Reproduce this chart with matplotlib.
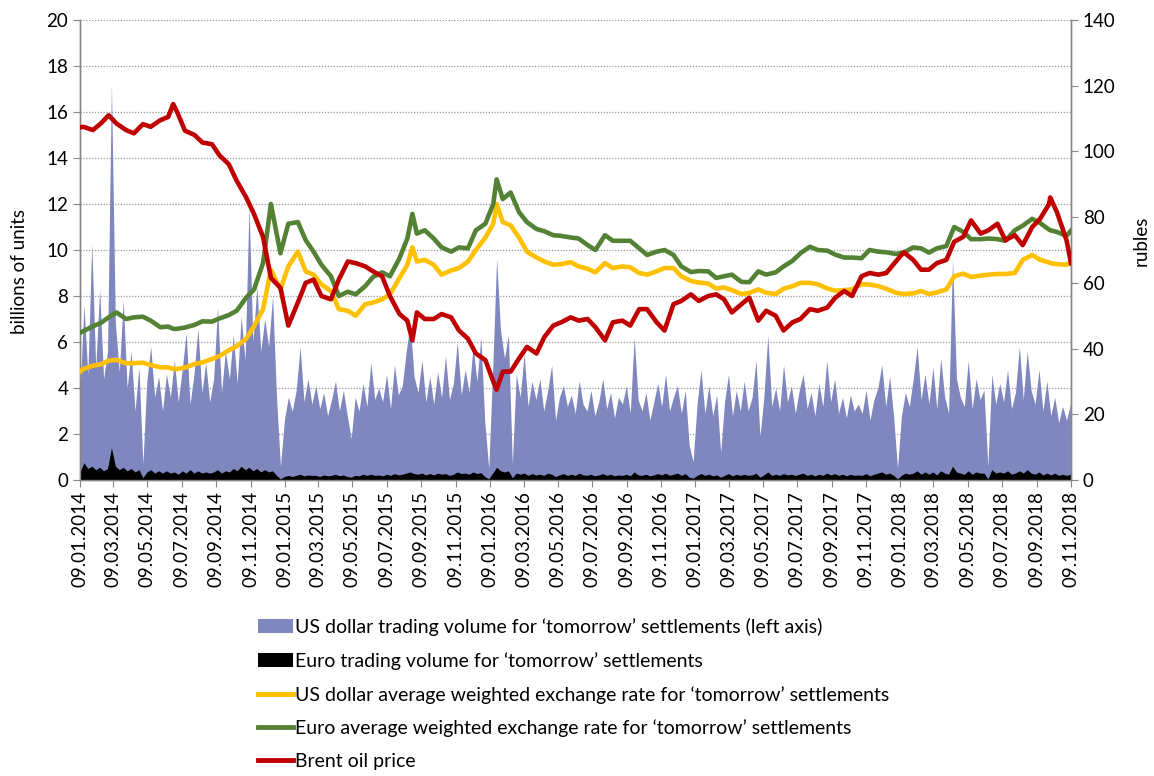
import numpy as np
import pandas as pd
import matplotlib
matplotlib.use('Agg')
import matplotlib.pyplot as plt
import matplotlib.dates as mdates
from matplotlib.patches import Patch
from matplotlib.lines import Line2D

plt.rcParams['font.family'] = ['Lato', 'DejaVu Sans']

# ---------------- weekly trading volumes (billions of units, left axis) ----------------
vol_dates = pd.date_range('2014-01-09', '2018-11-08', freq='7D')

usd_volume = (
    # 2014
    [3.8, 7.6, 4.6, 10.3, 4.9, 8.3, 4.4, 5.6, 17.2, 6.8, 4.7, 7.8, 4.0, 5.6, 3.0, 4.9,
     0.7, 4.3, 5.8, 3.6, 4.5, 3.0, 4.6, 3.6, 5.2, 3.4, 4.8, 6.4, 3.3, 4.6, 6.6, 3.8, 5.1, 3.4,
     4.4, 7.5, 3.8, 5.6, 4.4, 6.3, 4.2, 7.1, 5.2, 11.9, 6.0, 8.4, 5.6, 7.0, 5.8, 8.0, 3.6]
    # 2015
    + [0.6, 2.6, 3.6, 3.0, 3.9, 5.8, 3.4, 4.4, 3.3, 4.1, 3.1, 3.8, 2.8, 3.5, 4.3, 3.0, 3.9, 2.8,
       1.8, 3.6, 3.0, 4.2, 3.2, 5.1, 3.5, 4.0, 3.4, 4.6, 3.1, 5.0, 3.7, 4.1, 5.6, 6.8, 4.5,
       3.8, 5.2, 3.4, 4.5, 3.3, 4.7, 3.6, 5.4, 3.5, 4.2, 6.0, 3.7, 4.8, 3.8, 5.8, 4.3, 6.2, 2.5]
    # 2016
    + [0.5, 4.8, 9.6, 6.5, 5.3, 6.3, 0.7, 4.6, 3.6, 5.5, 3.2, 4.3, 3.5, 4.4, 3.0, 3.9, 5.0,
       2.6, 3.6, 4.1, 3.2, 3.7, 2.9, 4.3, 3.3, 3.0, 3.9, 2.8, 3.4, 4.4, 3.1, 3.8, 2.7, 3.6,
       3.3, 4.1, 2.9, 6.2, 3.5, 3.0, 3.8, 2.6, 3.4, 4.2, 3.2, 4.6, 3.0, 3.6, 4.1, 2.9, 3.9, 1.5]
    # 2017
    + [0.8, 3.3, 4.8, 2.9, 4.1, 2.8, 3.7, 1.2, 3.4, 4.6, 2.8, 3.9, 3.0, 4.3, 3.0, 3.6, 5.2,
       1.9, 3.6, 6.3, 3.2, 4.0, 3.0, 5.0, 3.4, 4.1, 2.9, 3.9, 4.6, 3.1, 3.8, 2.8, 4.2, 3.2, 5.2,
       3.4, 4.4, 2.9, 3.6, 2.7, 3.7, 3.0, 3.3, 2.9, 3.9, 2.6, 3.5, 4.0, 5.0, 3.2, 4.5, 2.8]
    # 2018
    + [0.5, 2.8, 3.8, 3.2, 4.4, 5.8, 3.5, 4.6, 3.3, 4.9, 3.1, 5.3, 3.6, 2.9, 9.6, 4.4, 3.6,
       3.2, 5.2, 3.1, 4.4, 3.5, 3.9, 0.6, 4.6, 3.3, 4.2, 3.4, 4.8, 3.1, 3.8, 5.8, 3.5, 5.6, 3.9,
       3.3, 4.8, 3.0, 4.3, 2.8, 3.6, 2.5, 3.2, 2.6, 3.3]
)

eur_volume = (
    # 2014
    [0.35, 0.75, 0.5, 0.6, 0.45, 0.55, 0.4, 0.5, 1.4, 0.6, 0.45, 0.55, 0.4, 0.5, 0.35, 0.45,
     0.1, 0.35, 0.45, 0.3, 0.4, 0.3, 0.4, 0.3, 0.35, 0.25, 0.4, 0.3, 0.45, 0.3, 0.4, 0.3, 0.35, 0.3,
     0.35, 0.45, 0.3, 0.4, 0.35, 0.5, 0.4, 0.6, 0.45, 0.55, 0.4, 0.5, 0.35, 0.45, 0.35, 0.4, 0.2]
    # 2015
    + [0.05, 0.15, 0.2, 0.15, 0.2, 0.25, 0.18, 0.22, 0.2, 0.2, 0.15, 0.22, 0.18, 0.2, 0.25, 0.18, 0.22, 0.15,
       0.12, 0.2, 0.18, 0.25, 0.2, 0.25, 0.2, 0.22, 0.18, 0.25, 0.2, 0.28, 0.22, 0.25, 0.3, 0.35, 0.28,
       0.25, 0.3, 0.22, 0.28, 0.22, 0.3, 0.25, 0.28, 0.2, 0.25, 0.35, 0.28, 0.3, 0.25, 0.35, 0.28, 0.32, 0.15]
    # 2016
    + [0.05, 0.3, 0.55, 0.4, 0.35, 0.4, 0.1, 0.3, 0.25, 0.3, 0.2, 0.28, 0.22, 0.25, 0.2, 0.3, 0.25,
       0.15, 0.22, 0.28, 0.2, 0.25, 0.2, 0.3, 0.22, 0.2, 0.25, 0.18, 0.22, 0.28, 0.2, 0.25, 0.18, 0.22,
       0.2, 0.25, 0.18, 0.35, 0.22, 0.2, 0.25, 0.18, 0.22, 0.28, 0.22, 0.3, 0.2, 0.25, 0.3, 0.2, 0.28, 0.12]
    # 2017
    + [0.08, 0.2, 0.28, 0.2, 0.25, 0.18, 0.22, 0.12, 0.2, 0.28, 0.18, 0.25, 0.2, 0.25, 0.2, 0.22, 0.3,
       0.12, 0.22, 0.35, 0.2, 0.25, 0.2, 0.28, 0.22, 0.25, 0.2, 0.25, 0.3, 0.2, 0.25, 0.18, 0.25, 0.2, 0.3,
       0.22, 0.28, 0.2, 0.25, 0.18, 0.25, 0.2, 0.22, 0.2, 0.28, 0.18, 0.25, 0.3, 0.35, 0.25, 0.3, 0.2]
    # 2018
    + [0.05, 0.2, 0.3, 0.25, 0.3, 0.4, 0.25, 0.35, 0.25, 0.35, 0.22, 0.4, 0.3, 0.25, 0.6, 0.35, 0.3,
       0.25, 0.4, 0.25, 0.35, 0.3, 0.3, 0.05, 0.45, 0.3, 0.35, 0.3, 0.4, 0.25, 0.3, 0.4, 0.3, 0.45, 0.3,
       0.25, 0.35, 0.22, 0.3, 0.22, 0.3, 0.2, 0.25, 0.2, 0.25]
)

# ---------------- rates and oil (right axis, semi-monthly + peak dates) ----------------
peak_dates = ['2014-06-24', '2015-08-24', '2016-01-21', '2018-10-03']
line_dates = sorted(
    [pd.Timestamp('2014-01-09')]
    + list(pd.date_range('2014-01-15', '2018-11-01', freq='SMS'))
    + [pd.Timestamp(d) for d in peak_dates]
    + [pd.Timestamp('2018-11-09')]
)

usd_rate = (
    [33, 33.8, 34.8, 35.2, 36.3, 36.6, 35.5, 35.6, 35.7, 35, 34.3, 34.3, 33.8, 33.8, 34.2, 35.3,
     35.8, 36.8, 37.8, 39.5, 40.7, 43, 46.8, 52, 64]
    + [58, 65, 69.5, 63.5, 62.5, 59.5, 57.5, 52, 51.5, 50, 53.5, 54, 55, 56.5, 61.5, 65.5, 70.8,
       66.5, 67, 65.5, 62.5, 63.8, 64.5, 66.5, 70]
    + [73.8, 78, 84, 78.5, 77.5, 73.8, 69.5, 67.7, 66.5, 65.5, 65.7, 66.3, 65, 64.3, 63.2, 66,
       64.5, 65, 64.7, 63, 62.5, 63.5, 64.5, 64.5, 62]
    + [60.6, 60.1, 59.8, 58.3, 58.6, 57.8, 56.6, 56.9, 58, 57, 56.6, 58.2, 59, 60, 60, 59.6,
       58.3, 57.6, 57.8, 58, 59.6, 59.5, 59, 58.2]
    + [57, 56.6, 56.8, 57.5, 56.6, 57.1, 58, 62, 62.8, 61.8, 62.2, 62.5, 62.7, 62.7, 63, 67,
       68.5, 67, 66.2, 66, 65.7, 65.5, 66.5]
)

eur_rate = (
    [44.8, 45.3, 46.8, 47.8, 49.5, 51, 49, 49.5, 49.7, 48.5, 46.5, 46.7, 46, 46, 46.4, 47.2,
     48.3, 48.2, 49.2, 50.2, 51.5, 55.5, 58, 66, 84]
    + [69, 78, 78.5, 73, 69.5, 65.5, 62, 56, 57.3, 56.5, 59, 61.8, 63.2, 62, 67.5, 73.5, 81,
       75, 76, 73.5, 70.8, 69.5, 70.8, 70.5, 76]
    + [78, 84, 91.5, 85.5, 87.5, 81.5, 78.5, 76.4, 75.7, 74.5, 74.3, 73.8, 73.5, 71.5, 70, 74.5,
       72.8, 72.8, 72.8, 70.5, 68.5, 69.5, 70, 68.5, 65]
    + [63.3, 63.6, 63.5, 61.5, 62, 62.5, 60.3, 60.2, 63.5, 62.5, 63.2, 65, 66.7, 69, 71, 70,
       69.8, 68.6, 67.7, 67.7, 67.5, 70, 69.5, 69.3]
    + [68.8, 69.2, 70.8, 70.5, 69.2, 70.5, 71.2, 77, 75.5, 73.3, 73.3, 73.5, 73.3, 72.8, 76, 77.4,
       79.5, 78.2, 76.2, 76, 75.5, 74.3, 75.9]
)

brent = (
    [107.3, 107.5, 106.5, 108.5, 111, 108.5, 106.5, 105.5, 108.3, 107.5, 109.5, 110.5, 114.4, 112,
     106.3, 105, 102.7, 102.2, 98.7, 96.1, 91.1, 86, 80.9, 74, 61.5]
    + [58.5, 47, 54, 60, 61, 56, 55, 61, 66.5, 66, 65, 63.5, 62, 56, 50.5, 48.5, 42.5, 51, 49, 49,
       50.5, 49.5, 45.5, 43, 38.5]
    + [36.5, 30, 27.5, 33, 33, 37, 40.5, 38.5, 43.5, 47, 48, 49.5, 48.5, 49, 46.5, 42.5, 48, 48.5,
       47, 52, 52, 48, 45.5, 53.5, 54.5]
    + [56.5, 54.5, 56, 56.5, 55, 51, 53.5, 55.5, 48.5, 51.5, 50, 45.5, 48, 49, 52, 51.5, 52.5,
       55.5, 57.5, 56, 62, 63, 62.5, 63]
    + [66.5, 69.3, 67, 64, 64, 66, 67, 72.5, 74, 79, 75, 76, 78, 73, 74.5, 71.5, 77, 79.5, 84,
       86, 81.5, 73, 66]
)

legend_labels = [
    "US dollar trading volume for \u2018tomorrow\u2019 settlements (left axis)",
    "Euro trading volume for \u2018tomorrow\u2019 settlements",
    "US dollar average weighted exchange rate for \u2018tomorrow\u2019 settlements",
    "Euro average weighted exchange rate for \u2018tomorrow\u2019 settlements",
    "Brent oil price",
]

assert len(usd_volume) == len(vol_dates) == len(eur_volume)
assert len(usd_rate) == len(eur_rate) == len(brent) == len(line_dates)

C_VOL = '#8087BF'
C_EURV = '#000000'
C_USD = '#FFC000'
C_EUR = '#548235'
C_OIL = '#C00000'
C_AX = '#868686'
FS = 13.5

fig = plt.figure(figsize=(11.54, 7.76), dpi=100)
ax = fig.add_axes([80 / 1154, 1 - 480 / 776, 991 / 1154, 460 / 776])

ax.fill_between(vol_dates, usd_volume, 0, color=C_VOL, lw=0, zorder=2)
ax.fill_between(vol_dates, eur_volume, 0, color=C_EURV, lw=0, zorder=3)

x0, x1 = pd.Timestamp('2014-01-09'), pd.Timestamp('2018-11-09')
ax.set_xlim(x0, x1)
ax.set_ylim(0, 20)
ax.set_yticks(range(0, 21, 2))
ax.grid(axis='y', color='#9A9A9A', linestyle=(0, (1, 1.3)), lw=0.9)
ax.set_axisbelow(True)

tick_dates = [pd.Timestamp(2014 + (m - 1) // 12, (m - 1) % 12 + 1, 9) for m in range(1, 60, 2)]
ax.set_xticks(tick_dates)
ax.xaxis.set_major_formatter(mdates.DateFormatter('%d.%m.%Y'))
ax.tick_params(axis='x', rotation=90, labelsize=FS, length=5, color=C_AX, pad=3)
ax.tick_params(axis='y', labelsize=FS, length=5, color=C_AX)

ax2 = ax.twinx()
ax2.plot(line_dates, usd_rate, color=C_USD, lw=3.3, solid_joinstyle='round', zorder=3)
ax2.plot(line_dates, eur_rate, color=C_EUR, lw=3.3, solid_joinstyle='round', zorder=4)
ax2.plot(line_dates, brent, color=C_OIL, lw=3.3, solid_joinstyle='round', zorder=5)
ax2.set_ylim(0, 140)
ax2.set_yticks(range(0, 141, 20))
ax2.tick_params(axis='y', labelsize=FS, length=5, color=C_AX)
ax2.set_xlim(x0, x1)

for a in (ax, ax2):
    a.spines['top'].set_visible(False)
    for s in ('left', 'right', 'bottom'):
        a.spines[s].set_color(C_AX)
        a.spines[s].set_linewidth(1.0)

fig.text(20 / 1154, 1 - 271 / 776, 'billions of units', rotation=90, ha='center', va='center', fontsize=FS)
fig.text(1141 / 1154, 1 - 241 / 776, 'rubles', rotation=90, ha='center', va='center', fontsize=FS)

handles = [
    Patch(facecolor=C_VOL, edgecolor='none'),
    Patch(facecolor=C_EURV, edgecolor='none'),
    Line2D([], [], color=C_USD, lw=3.5),
    Line2D([], [], color=C_EUR, lw=3.5),
    Line2D([], [], color=C_OIL, lw=3.5),
]
fig.legend(handles, legend_labels, loc='upper left', bbox_to_anchor=(258 / 1154, 1 - 618 / 776),
           frameon=False, fontsize=14, handlelength=1.8, handleheight=0.75, handletextpad=0.1,
           labelspacing=0.82, borderpad=0, borderaxespad=0)

fig.savefig('out.png', dpi=100)
